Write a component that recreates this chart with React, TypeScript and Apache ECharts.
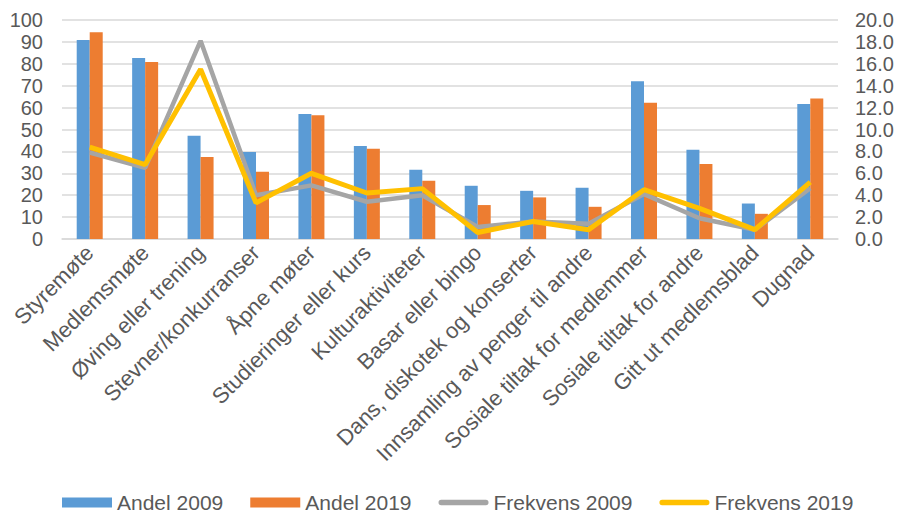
import React, { useEffect, useRef } from "react";
import * as echarts from "echarts";

const categories = [
  "Styremøte",
  "Medlemsmøte",
  "Øving eller trening",
  "Stevner/konkurranser",
  "Åpne møter",
  "Studieringer eller kurs",
  "Kulturaktiviteter",
  "Basar eller bingo",
  "Dans, diskotek og konserter",
  "Innsamling av penger til andre",
  "Sosiale tiltak for medlemmer",
  "Sosiale tiltak for andre",
  "Gitt ut medlemsblad",
  "Dugnad",
];

const andel2009 = [90.9, 82.7, 47.1, 39.7, 57.1, 42.5, 31.6, 24.3, 22.0, 23.4, 72.0, 40.7, 16.2, 61.7];
const andel2019 = [94.4, 80.8, 37.4, 30.7, 56.5, 41.2, 26.6, 15.5, 19.0, 14.7, 62.2, 34.2, 11.5, 64.1];
const frekvens2009 = [7.9, 6.5, 18.1, 4.0, 4.9, 3.4, 4.0, 1.1, 1.6, 1.4, 4.1, 1.9, 0.85, 4.65];
const frekvens2019 = [8.4, 6.8, 15.5, 3.3, 6.0, 4.2, 4.6, 0.6, 1.6, 0.85, 4.5, 2.8, 0.85, 5.2];

const seriesNames = ["Andel 2009", "Andel 2019", "Frekvens 2009", "Frekvens 2019"];

const lineIcon = "path://M3,0 L53,0 A3,3 0 0 1 53,6 L3,6 A3,3 0 0 1 3,0 Z";

export default function App() {
  const ref = useRef<HTMLDivElement>(null);
  useEffect(() => {
    if (!ref.current) return;
    const chart = echarts.init(ref.current, undefined, { renderer: "svg" });
    const font = "'Liberation Sans', Arial, sans-serif";
    chart.setOption({
      animation: false,
      backgroundColor: "#ffffff",
      textStyle: { fontFamily: font },
      grid: { left: 62, right: 61, top: 20, bottom: 278 },
      legend: {
        top: 487,
        left: 57,
        itemWidth: 50,
        itemHeight: 10,
        itemGap: 27,
        textStyle: { fontSize: 21, color: "#595959", fontFamily: font },
        data: [
          { name: seriesNames[0], icon: "rect" },
          { name: seriesNames[1], icon: "rect" },
          { name: seriesNames[2], icon: lineIcon },
          { name: seriesNames[3], icon: lineIcon },
        ],
      },
      xAxis: {
        type: "category",
        data: categories,
        axisTick: { show: false },
        axisLine: { show: true, lineStyle: { color: "#d9d9d9", width: 1.5 } },
        axisLabel: {
          rotate: 45,
          interval: 0,
          fontSize: 22,
          color: "#595959",
          margin: 10,
          fontFamily: font,
        },
      },
      yAxis: [
        {
          type: "value",
          min: 0,
          max: 100,
          interval: 10,
          axisLine: { show: false },
          axisTick: { show: false },
          splitLine: { lineStyle: { color: "#d9d9d9", width: 1.5 } },
          axisLabel: { fontSize: 20, color: "#595959", margin: 19, fontFamily: font },
        },
        {
          type: "value",
          min: 0,
          max: 20,
          interval: 2,
          axisLine: { show: false },
          axisTick: { show: false },
          splitLine: { show: false },
          axisLabel: {
            fontSize: 20,
            color: "#595959",
            margin: 17,
            fontFamily: font,
            formatter: (v: number) => v.toFixed(1),
          },
        },
      ],
      series: [
        {
          name: seriesNames[0],
          type: "bar",
          data: andel2009,
          barWidth: 13,
          barGap: "0%",
          itemStyle: { color: "#5b9bd5" },
        },
        {
          name: seriesNames[1],
          type: "bar",
          data: andel2019,
          barWidth: 13,
          barGap: "0%",
          itemStyle: { color: "#ed7d31" },
        },
        {
          name: seriesNames[2],
          type: "line",
          yAxisIndex: 1,
          data: frekvens2009,
          symbol: "none",
          lineStyle: { color: "#a5a5a5", width: 4.5 },
          itemStyle: { color: "#a5a5a5" },
        },
        {
          name: seriesNames[3],
          type: "line",
          yAxisIndex: 1,
          data: frekvens2019,
          symbol: "none",
          lineStyle: { color: "#ffc000", width: 5 },
          itemStyle: { color: "#ffc000" },
        },
      ],
    });
    return () => chart.dispose();
  }, []);
  return (
    <div
      ref={ref}
      style={{ position: "fixed", left: 0, top: 0, width: 899, height: 517 }}
    />
  );
}
